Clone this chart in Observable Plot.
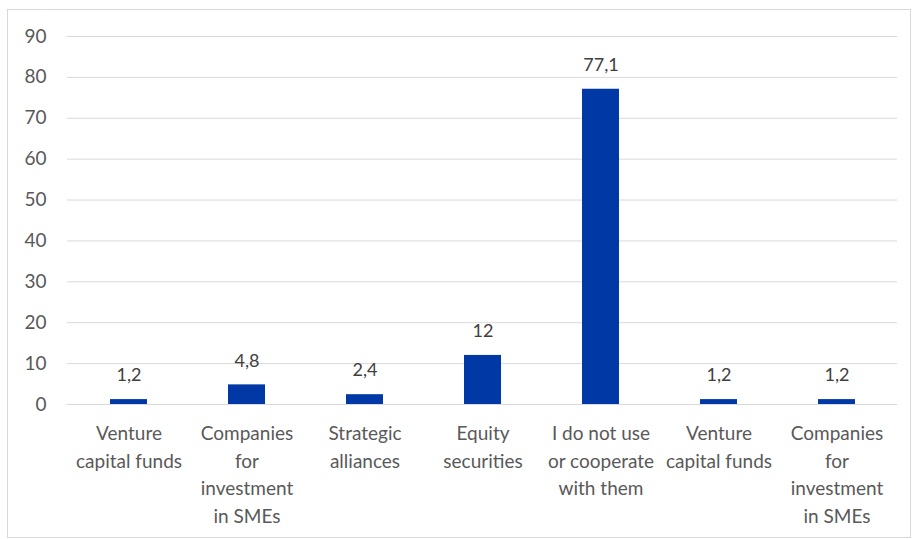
<!DOCTYPE html>
<html>
<head>
<meta charset="utf-8">
<script src="https://cdn.jsdelivr.net/npm/d3@7"></script>
<script src="https://cdn.jsdelivr.net/npm/@observablehq/plot@0.6"></script>
<style>
  html, body { margin: 0; padding: 0; background: #fff; }
  #wrap { position: relative; width: 917px; height: 539px; }
  #border { position: absolute; left: 7px; top: 9px; width: 902px; height: 527px; border: 1px solid #d9d9d9; pointer-events: none; }
</style>
</head>
<body>
<div id="wrap"><div id="border"></div><div id="chart"></div></div>
<script>
const categories = [
  "Venture capital funds",
  "Companies for investment in SMEs",
  "Strategic alliances",
  "Equity securities",
  "I do not use or cooperate with them",
  "Venture capital funds",
  "Companies for investment in SMEs"
];
const tickLabels = [
  "Venture\ncapital funds",
  "Companies\nfor\ninvestment\nin SMEs",
  "Strategic\nalliances",
  "Equity\nsecurities",
  "I do not use\nor cooperate\nwith them",
  "Venture\ncapital funds",
  "Companies\nfor\ninvestment\nin SMEs"
];
const values = [1.2, 4.8, 2.4, 12, 77.1, 1.2, 1.2];
const valueLabels = ["1,2", "4,8", "2,4", "12", "77,1", "1,2", "1,2"];
const yTicks = [0, 10, 20, 30, 40, 50, 60, 70, 80, 90];

const data = categories.map((c, i) => ({i, category: c, value: values[i], label: valueLabels[i]}));

const font = "Lato, 'Open Sans', sans-serif";
const chart = Plot.plot({
  width: 917,
  height: 539,
  marginLeft: 67,
  marginRight: 20,
  marginTop: 36,
  marginBottom: 135,
  style: {fontFamily: font, background: "transparent", overflow: "visible"},
  x: {type: "band", domain: d3.range(categories.length), paddingInner: 0.69, paddingOuter: 0.345, align: 0.5},
  y: {domain: [0, 90], ticks: yTicks},
  marks: [
    Plot.gridY(yTicks, {stroke: "#d9d9d9", strokeOpacity: 1, strokeWidth: 1}),
    Plot.barY(data, {x: "i", y: "value", fill: "#0039a6"}),
    Plot.text(data, {x: "i", y: "value", text: "label", dy: -24, fontSize: 18, fill: "#404040", lineAnchor: "middle"}),
    Plot.axisY(yTicks, {tickSize: 0, tickPadding: 21, fontSize: 19, fill: "#595959", label: null}),
    Plot.axisX({tickSize: 0, tickPadding: 16, fontSize: 19, fill: "#595959", lineHeight: 1.45, label: null, tickFormat: i => tickLabels[i]})
  ]
});
document.getElementById("chart").appendChild(chart);
</script>
</body>
</html>
